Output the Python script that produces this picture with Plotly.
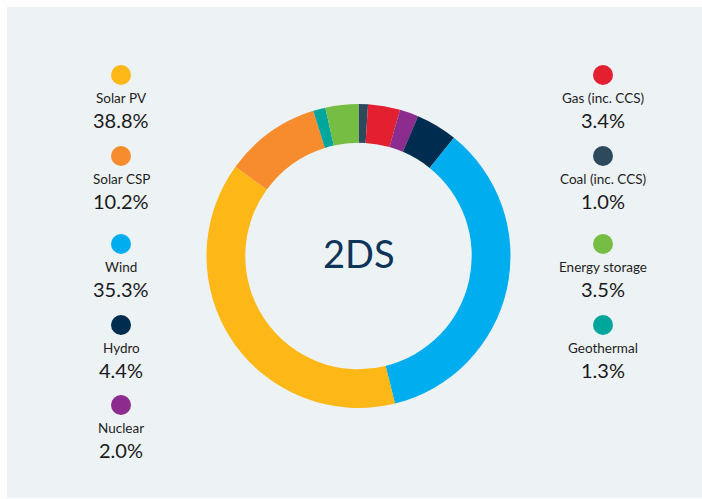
import plotly.graph_objects as go

# Generation mix shares under the 2DS scenario (%), in clockwise order from 12 o'clock
sources = ["Coal (inc. CCS)", "Gas (inc. CCS)", "Nuclear", "Hydro", "Wind",
           "Solar PV", "Solar CSP", "Geothermal", "Energy storage"]
shares = [1.0, 3.4, 2.0, 4.4, 35.3, 38.8, 10.2, 1.3, 3.5]

# Key columns
left_keys = ["Solar PV", "Solar CSP", "Wind", "Hydro", "Nuclear"]
right_keys = ["Gas (inc. CCS)", "Coal (inc. CCS)", "Energy storage", "Geothermal"]

scenario = "2DS"

palette = {
    "Coal (inc. CCS)": "#2C4A5C",
    "Gas (inc. CCS)": "#E31F30",
    "Nuclear": "#8B2C8E",
    "Hydro": "#002D4F",
    "Wind": "#00ADEE",
    "Solar PV": "#FDB716",
    "Solar CSP": "#F68C2D",
    "Geothermal": "#00A69C",
    "Energy storage": "#76BE43",
}

W, H = 702, 499
BG = "#EDF2F5"
FONT = "Lato, 'Open Sans', sans-serif"

cx, cy, r = 358.5, 256, 152

fig = go.Figure()

fig.add_trace(go.Pie(
    labels=sources,
    values=shares,
    sort=False,
    direction="clockwise",
    rotation=0,
    hole=0.745,
    marker=dict(colors=[palette[s] for s in sources], line=dict(width=0)),
    textinfo="none",
    hoverinfo="label+percent",
    showlegend=False,
    domain=dict(x=[(cx - r) / W, (cx + r) / W], y=[1 - (cy + r) / H, 1 - (cy - r) / H]),
))

# Key: a dot, the source name and its share, stacked in two columns
row_y = [75, 156, 244, 325, 405]
columns = [(121, left_keys), (603, right_keys)]

dot_x, dot_y, dot_c = [], [], []
annotations = []
value_of = dict(zip(sources, shares))
for col_x, keys in columns:
    for key, y in zip(keys, row_y):
        dot_x.append(col_x)
        dot_y.append(y)
        dot_c.append(palette[key])
        annotations.append(dict(
            x=col_x, y=y + 23, xref="x", yref="y", text=key, showarrow=False,
            font=dict(family=FONT, size=13.5, color="#1E1E1E"),
            xanchor="center", yanchor="middle",
        ))
        annotations.append(dict(
            x=col_x, y=y + 45, xref="x", yref="y", text=f"{value_of[key]:.1f}%",
            showarrow=False, font=dict(family=FONT, size=20, color="#1A1A1A"),
            xanchor="center", yanchor="middle",
        ))

fig.add_trace(go.Scatter(
    x=dot_x, y=dot_y, mode="markers",
    marker=dict(size=20, color=dot_c, line=dict(width=0)),
    hoverinfo="skip", showlegend=False,
))

annotations.append(dict(
    x=cx, y=cy - 3, xref="x", yref="y", text=scenario, showarrow=False,
    font=dict(family=FONT, size=38, color="#0E3558"),
    xanchor="center", yanchor="middle",
))

fig.update_layout(
    width=W, height=H,
    margin=dict(l=0, r=0, t=0, b=0),
    paper_bgcolor="white",
    plot_bgcolor="rgba(0,0,0,0)",
    xaxis=dict(range=[0, W], visible=False, fixedrange=True),
    yaxis=dict(range=[H, 0], visible=False, fixedrange=True),
    shapes=[dict(type="rect", xref="x", yref="y", x0=7, y0=7, x1=W, y1=H - 1,
                 fillcolor=BG, line=dict(width=0), layer="below")],
    annotations=annotations,
)

fig.write_html("out.html")
